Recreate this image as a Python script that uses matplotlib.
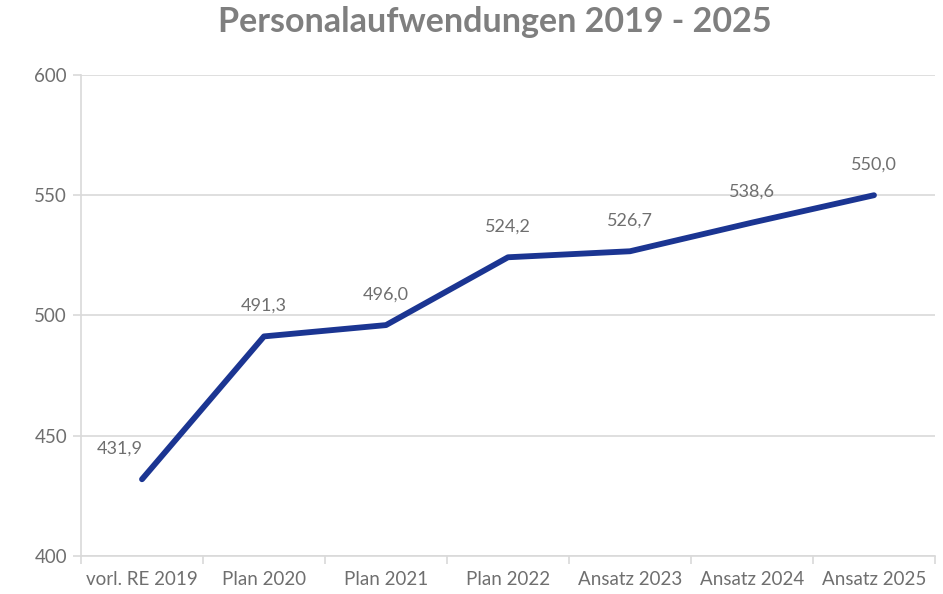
import matplotlib
matplotlib.use("Agg")
import matplotlib.pyplot as plt
from matplotlib.ticker import MultipleLocator, FixedLocator

# data
categories = ["vorl. RE 2019", "Plan 2020", "Plan 2021", "Plan 2022",
              "Ansatz 2023", "Ansatz 2024", "Ansatz 2025"]
values = [431.9, 491.3, 496.0, 524.2, 526.7, 538.6, 550.0]
labels = ["431,9", "491,3", "496,0", "524,2", "526,7", "538,6", "550,0"]

gray = "#7f7f7f"
text_gray = "#6f6f6f"
grid_gray = "#d9d9d9"
line_blue = "#1b3592"

plt.rcParams["font.family"] = ["Lato", "DejaVu Sans"]

fig = plt.figure(figsize=(9.43, 5.94), dpi=100)
ax = fig.add_axes([0.0859, 0.064, 0.9056, 0.8098])

x = list(range(len(categories)))
ax.plot(x, values, color=line_blue, linewidth=4.2, solid_capstyle="round",
        solid_joinstyle="round", zorder=3)

for i, (v, lab) in enumerate(zip(values, labels)):
    dx = -16 if i == 0 else 0
    ax.annotate(lab, (i, v), xytext=(dx, 22), textcoords="offset points",
                ha="center", va="center", fontsize=13, color=text_gray)

ax.set_xlim(-0.5, len(categories) - 0.5)
ax.set_ylim(400, 600)
ax.yaxis.set_major_locator(MultipleLocator(50))
ax.yaxis.grid(True, color=grid_gray, linewidth=1.2)
ax.set_axisbelow(True)

ax.set_xticks(x)
ax.set_xticklabels(categories)
ax.xaxis.set_minor_locator(FixedLocator([i - 0.5 for i in range(len(categories) + 1)]))
ax.tick_params(axis="x", which="major", length=0, pad=11, labelsize=13.5, labelcolor=text_gray)
ax.tick_params(axis="x", which="minor", length=6, color=grid_gray, width=1.2)
ax.tick_params(axis="y", length=6, color=grid_gray, width=1.2, pad=4,
               labelsize=13.5, labelcolor=text_gray)

for side in ["top", "right"]:
    ax.spines[side].set_visible(False)
for side in ["left", "bottom"]:
    ax.spines[side].set_color(grid_gray)
    ax.spines[side].set_linewidth(1.2)

fig.suptitle("Personalaufwendungen 2019 - 2025", x=0.525, y=0.99,
             fontsize=24.5, fontweight="bold", color=gray)

fig.savefig("out.png", dpi=100)
